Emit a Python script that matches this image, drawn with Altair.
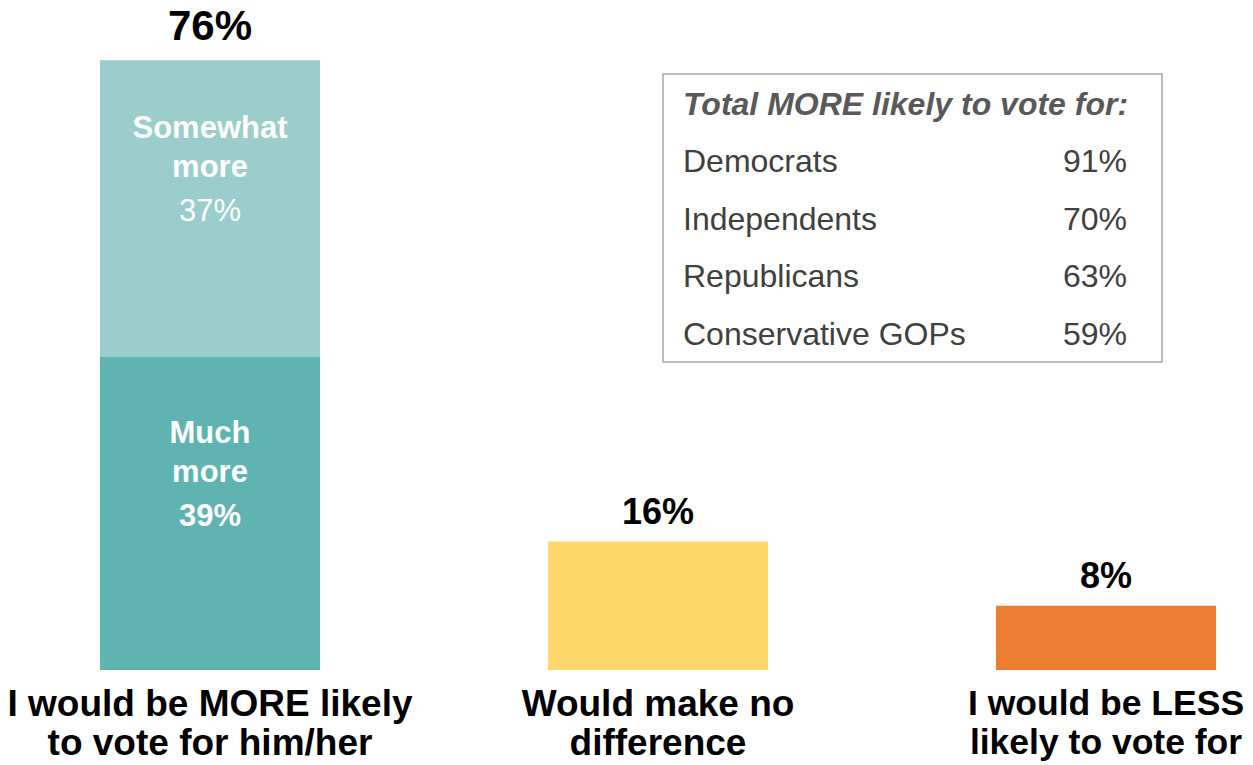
import altair as alt
import pandas as pd

# ---- data ----
categories = ["I would be MORE likely|to vote for him/her",
              "Would make no|difference",
              "I would be LESS|likely to vote for"]
segments = ["Much more", "Somewhat more", "No difference", "Less likely"]
segment_category = [categories[0], categories[0], categories[1], categories[2]]
segment_values = [39, 37, 16, 8]
segment_order = [1, 2, 1, 1]
segment_colors = ["#5FB3B1", "#9ACDCB", "#FDD76A", "#ED7D31"]

inner_names = ["Much\nmore", "Somewhat\nmore"]
inner_pcts = ["39%", "37%"]

totals = [76, 16, 8]
total_labels = ["76%", "16%", "8%"]

group_names = ["Democrats", "Independents", "Republicans", "Conservative GOPs"]
group_values = ["91%", "70%", "63%", "59%"]
table_title = "Total MORE likely to vote for:"

FONT = "Liberation Sans"

# ---- tables ----
bars_df = pd.DataFrame({
    "category": segment_category,
    "segment": segments,
    "value": segment_values,
    "order": segment_order,
})

starts = [0, segment_values[0]]
inner_df = pd.DataFrame({
    "category": [categories[0], categories[0]],
    "name": inner_names,
    "pct": inner_pcts,
    "mid": [starts[i] + segment_values[i] / 2 for i in range(2)],
})

tot_df = pd.DataFrame({"category": categories, "total": totals, "label": total_labels})
table_df = pd.DataFrame({"group": group_names, "val": group_values})
one = pd.DataFrame({"a": [0]})

x_scale = alt.Scale(domain=categories, range=[-22, 1322],
                    paddingInner=0.509, paddingOuter=0.2545)
y_scale = alt.Scale(domain=[0, 82.5])

label_size = {"condition": {"test": f"datum.value == '{categories[2]}'", "value": 35.5},
              "value": 37}

xenc = alt.X("category:N", scale=x_scale, sort=categories,
             axis=alt.Axis(title=None, domain=False, ticks=False, grid=False,
                           labelAngle=0, labelExpr="split(datum.label, '|')",
                           labelFontSize=label_size, labelFontWeight="bold",
                           labelColor="#000000", labelLineHeight=39,
                           labelPadding=16, labelFont=FONT, labelLimit=0))

bars = alt.Chart(bars_df).mark_bar().encode(
    x=xenc,
    y=alt.Y("value:Q", stack="zero", scale=y_scale, axis=None),
    color=alt.Color("segment:N", scale=alt.Scale(domain=segments, range=segment_colors), legend=None),
    order=alt.Order("order:Q"),
)

inner_name = alt.Chart(inner_df).mark_text(
    font=FONT, fontSize=31, fontWeight="bold", color="white",
    lineBreak="\n", lineHeight=39, baseline="alphabetic", dy=-71
).encode(
    x=alt.X("category:N", scale=x_scale, sort=categories),
    y=alt.Y("mid:Q", scale=y_scale, axis=None),
    text="name:N",
)

inner_pct_bold = alt.Chart(inner_df).transform_filter(
    alt.datum.pct == "39%"
).mark_text(
    font=FONT, fontSize=31, fontWeight="bold", color="white",
    baseline="alphabetic", dy=12
).encode(
    x=alt.X("category:N", scale=x_scale, sort=categories),
    y=alt.Y("mid:Q", scale=y_scale, axis=None),
    text="pct:N",
)

inner_pct_reg = alt.Chart(inner_df).transform_filter(
    alt.datum.pct == "37%"
).mark_text(
    font=FONT, fontSize=31, fontWeight="normal", color="white",
    baseline="alphabetic", dy=12
).encode(
    x=alt.X("category:N", scale=x_scale, sort=categories),
    y=alt.Y("mid:Q", scale=y_scale, axis=None),
    text="pct:N",
)

tot_big = alt.Chart(tot_df).transform_filter(
    alt.datum.label == "76%"
).mark_text(
    font=FONT, fontSize=42, fontWeight="bold", color="black",
    baseline="alphabetic", dy=-20
).encode(
    x=alt.X("category:N", scale=x_scale, sort=categories),
    y=alt.Y("total:Q", scale=y_scale, axis=None),
    text="label:N",
)

tot_small = alt.Chart(tot_df).transform_filter(
    alt.datum.label != "76%"
).mark_text(
    font=FONT, fontSize=36, fontWeight="bold", color="black",
    baseline="alphabetic", dy=-18
).encode(
    x=alt.X("category:N", scale=x_scale, sort=categories),
    y=alt.Y("total:Q", scale=y_scale, axis=None),
    text="label:N",
)

main = alt.layer(bars, inner_name, inner_pct_bold, inner_pct_reg, tot_big, tot_small)

box = alt.Chart(one).mark_rect(fillOpacity=0, stroke="#A6A6A6", strokeWidth=1.5).encode(
    x=alt.value(655), x2=alt.value(1154), y=alt.value(66), y2=alt.value(354)
)
title = alt.Chart(one).mark_text(
    text=table_title, font=FONT, fontSize=32, fontWeight="bold", fontStyle="italic",
    color="#595959", align="left", baseline="alphabetic"
).encode(x=alt.value(675), y=alt.value(107))

row_y = alt.Y("group:N", sort=group_names, axis=None,
              scale=alt.Scale(range=[164, 337], padding=0))
names = alt.Chart(table_df).mark_text(
    font=FONT, fontSize=32, color="#404040", align="left", baseline="alphabetic"
).encode(x=alt.value(675), y=row_y, text="group:N")
vals = alt.Chart(table_df).mark_text(
    font=FONT, fontSize=32, color="#404040", align="right", baseline="alphabetic"
).encode(x=alt.value(1119), y=row_y, text="val:N")

table = alt.layer(box, title, names, vals)

chart = alt.layer(main, table).resolve_scale(y="independent").properties(
    width=1237, height=662, autosize="none",
    padding={"left": 0, "top": 0, "right": 0, "bottom": 95},
).configure(font=FONT).configure_view(stroke=None)

chart.save("out.html", embed_options={"renderer": "svg", "actions": False})
